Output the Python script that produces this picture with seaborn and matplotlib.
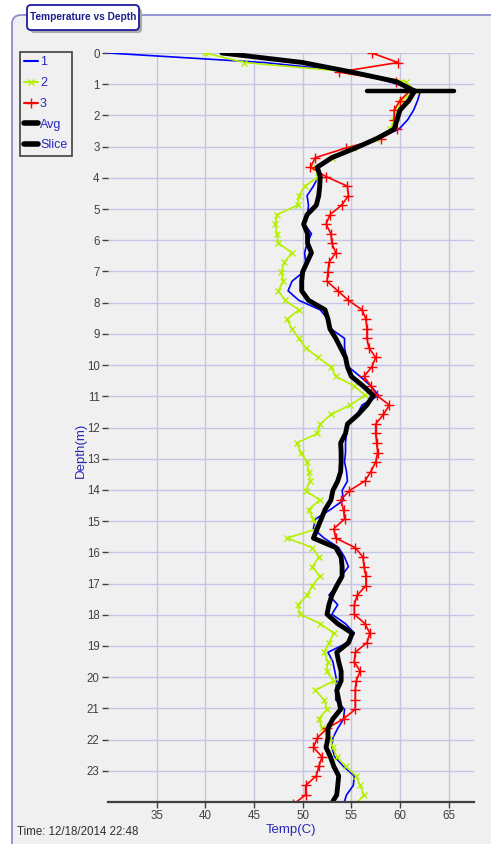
import numpy as np
import matplotlib
matplotlib.use("Agg")
import matplotlib.pyplot as plt
from matplotlib.patches import FancyBboxPatch
from matplotlib.lines import Line2D
from matplotlib.transforms import IdentityTransform
import seaborn as sns

# ── Data (sensor readings every foot, plotted in metres) ─────────────────────
depth_ft = np.arange(80)
depth_m = depth_ft * 0.3048

temp_1 = [30.0, 46.0, 55.5, 58.8, 62.1, 61.8, 61.4, 60.8, 59.9, 57.8,
          55.5, 53.3, 51.6, 51.6, 51.1, 50.45, 50.6, 50.5, 50.2, 50.9,
          50.45, 50.2, 50.3, 50.1, 48.9, 48.5, 49.6, 51.8, 52.6, 52.9,
          54.3, 54.3, 54.5, 54.7, 55.9, 57.0, 57.8, 56.1, 55.6, 54.6,
          54.5, 54.4, 54.4, 54.3, 54.5, 54.6, 54.05, 54.2, 52.85, 51.3,
          51.1, 52.2, 53.7, 54.3, 54.7, 53.95, 53.5, 52.7, 53.6, 53.0,
          54.4, 55.3, 54.6, 52.6, 53.1, 53.3, 53.5, 53.4, 53.4, 54.3,
          54.2, 53.6, 53.1, 53.0, 53.3, 54.2, 55.3, 55.2, 54.5, 54.2]

temp_2 = [40.0, 44.0, 55.0, 60.6, 61.5, 60.1, 59.8, 59.4, 59.0, 57.5,
          55.2, 53.0, 51.3, 51.6, 50.2, 49.6, 49.5, 47.35, 47.2, 47.35,
          47.5, 48.9, 48.1, 47.8, 48.0, 47.5, 48.2, 49.6, 48.4, 48.9,
          49.6, 50.3, 51.6, 52.9, 53.4, 55.3, 56.4, 54.9, 52.9, 51.8,
          51.5, 49.4, 49.8, 50.45, 50.6, 50.8, 50.3, 51.75, 50.6, 51.1,
          51.5, 48.4, 51.0, 51.65, 51.0, 51.75, 51.0, 50.45, 49.5, 49.75,
          51.8, 53.2, 52.7, 52.2, 52.6, 52.45, 53.2, 51.3, 52.2, 52.5,
          51.65, 52.0, 52.8, 53.1, 53.5, 54.4, 55.5, 55.9, 56.3, 55.4]

temp_3 = [57.1, 59.8, 53.7, 59.6, 61.0, 60.0, 59.4, 59.4, 59.7, 58.0,
          54.4, 51.3, 50.8, 52.4, 54.6, 54.7, 54.0, 52.8, 52.4, 52.9,
          53.0, 53.4, 52.7, 52.6, 52.5, 53.6, 54.7, 56.1, 56.5, 56.6,
          56.6, 56.8, 57.5, 57.1, 56.3, 57.0, 57.6, 58.9, 58.3, 57.5,
          57.5, 57.6, 57.7, 57.5, 57.0, 56.4, 54.8, 53.9, 54.2, 54.3,
          53.2, 53.4, 55.4, 56.2, 56.3, 56.5, 56.5, 55.6, 55.3, 55.3,
          56.4, 56.9, 56.6, 55.4, 55.3, 55.9, 55.5, 55.4, 55.4, 55.4,
          54.2, 52.5, 51.5, 51.1, 52.0, 51.65, 51.4, 50.3, 50.3, 49.0]

temp_avg = [41.7, 50.0, 55.0, 59.6, 61.5, 60.9, 60.0, 59.7, 59.4, 57.6,
            55.4, 53.0, 51.5, 51.8, 51.75, 51.65, 51.4, 50.45, 50.1, 50.5,
            50.5, 50.9, 50.45, 50.0, 49.9, 49.9, 50.6, 52.3, 52.6, 52.8,
            53.4, 53.9, 54.4, 54.6, 55.0, 56.2, 57.25, 56.6, 55.7, 54.6,
            54.4, 53.9, 53.95, 53.95, 53.9, 53.6, 53.1, 52.9, 52.3, 51.9,
            51.5, 51.1, 53.4, 53.95, 54.05, 54.05, 53.5, 53.0, 52.7, 52.5,
            53.6, 55.1, 54.7, 53.5, 53.7, 53.95, 53.95, 53.5, 53.7, 53.9,
            53.1, 52.6, 52.6, 52.4, 52.85, 53.2, 53.7, 53.6, 53.5, 52.9]

slice_depth = 1.22
slice_temps = [56.6, 65.5]

x_ticks = [35, 40, 45, 50, 55, 60, 65]
y_ticks = list(range(24))
series_labels = ["1", "2", "3", "Avg", "Slice"]
time_label = "Time: 12/18/2014 22:48"

# ── Style ────────────────────────────────────────────────────────────────────
sns.set_theme(style="white")
plt.rcParams["font.family"] = ["Liberation Sans", "DejaVu Sans"]

W, H = 491, 844
fig = plt.figure(figsize=(W / 100, H / 100), dpi=100)
fig.patch.set_facecolor("white")

# outer panel with rounded corner
panel = FancyBboxPatch((12, -20), 500, H - 15 + 20,
                       boxstyle="round,pad=0,rounding_size=9",
                       transform=IdentityTransform(), facecolor="#f0f0f0",
                       edgecolor="#8c8cd0", lw=1.3, zorder=-10)
fig.add_artist(panel)

# title tab with shadow
shadow = FancyBboxPatch((30, H - 33), 112, 25, boxstyle="round,pad=0,rounding_size=4",
                        transform=IdentityTransform(), facecolor="#a8a8a8",
                        edgecolor="none", zorder=-5)
tab = FancyBboxPatch((27, H - 30), 112, 25, boxstyle="round,pad=0,rounding_size=4",
                     transform=IdentityTransform(), facecolor="white",
                     edgecolor="#1c1c9c", lw=1.3, zorder=-4)
fig.add_artist(shadow)
fig.add_artist(tab)
fig.text(83 / W, 1 - 17.5 / H, "Temperature vs Depth", ha="center", va="center",
         fontsize=7.3, fontweight="bold", color="#1c1c8c")

# ── Axes ─────────────────────────────────────────────────────────────────────
ax = fig.add_axes([108 / W, 1 - 802 / H, 366 / W, 749 / H])
ax.set_facecolor("#f0f0f0")

sns.lineplot(x=temp_1, y=depth_m, sort=False, estimator=None, orient="y",
             color="#0000ff", lw=1.2, ax=ax)
sns.lineplot(x=temp_2, y=depth_m, sort=False, estimator=None, orient="y",
             color="#b4f000", lw=1.2, marker="x", markersize=5, mew=1,
             markeredgecolor="#b4f000", ax=ax)
sns.lineplot(x=temp_3, y=depth_m, sort=False, estimator=None, orient="y",
             color="#ff0000", lw=1.2, marker="+", markersize=7, mew=1,
             markeredgecolor="#ff0000", ax=ax)
sns.lineplot(x=temp_avg, y=depth_m, sort=False, estimator=None, orient="y",
             color="black", lw=3.5, ax=ax)
sns.lineplot(x=slice_temps, y=[slice_depth] * len(slice_temps), sort=False,
             estimator=None, color="black", lw=3.2, ax=ax)

ax.set_xlim(30, 67.6)
ax.set_ylim(24, 0)
ax.set_xticks(x_ticks)
ax.set_yticks(y_ticks)
ax.grid(True, color="#c4c4e6", lw=1)
ax.set_axisbelow(True)
ax.tick_params(direction="out", length=4, width=1, color="#404040",
               labelcolor="#404040", labelsize=8.3, pad=2,
               bottom=True, left=True)
for side in ["top", "right", "left"]:
    ax.spines[side].set_visible(False)
ax.spines["bottom"].set_color("#404040")
ax.spines["bottom"].set_linewidth(1.6)
ax.set_xlabel("")
ax.set_ylabel("")

fig.text(81 / W, 1 - 450 / H, "Depth(m)", rotation=90, ha="center", va="center",
         fontsize=9.5, color="#2828b4")
fig.text(291 / W, 1 - 830 / H, "Temp(C)", ha="center", va="center",
         fontsize=9.5, color="#2828b4")
fig.text(17 / W, 1 - 832 / H, time_label, ha="left", va="center",
         fontsize=8.3, color="#303030")

# ── Legend ───────────────────────────────────────────────────────────────────
handles = [
    Line2D([], [], color="#0000ff", lw=1.5),
    Line2D([], [], color="#b4f000", lw=1.5, marker="x", markersize=5),
    Line2D([], [], color="#ff0000", lw=1.5, marker="+", markersize=7),
    Line2D([], [], color="black", lw=4),
    Line2D([], [], color="black", lw=4),
]
leg = fig.legend(handles, series_labels, loc="upper left",
                 bbox_to_anchor=(20 / W, 1 - 52 / H), fontsize=9,
                 handlelength=1.1, handletextpad=0.15, borderpad=0.35,
                 labelspacing=0.7, borderaxespad=0, fancybox=False,
                 framealpha=1, facecolor="#f0f0f0", edgecolor="#404040",
                 labelcolor="#2828c0")
leg.get_frame().set_linewidth(1.2)

fig.savefig("out.png", dpi=100, facecolor=fig.get_facecolor())
